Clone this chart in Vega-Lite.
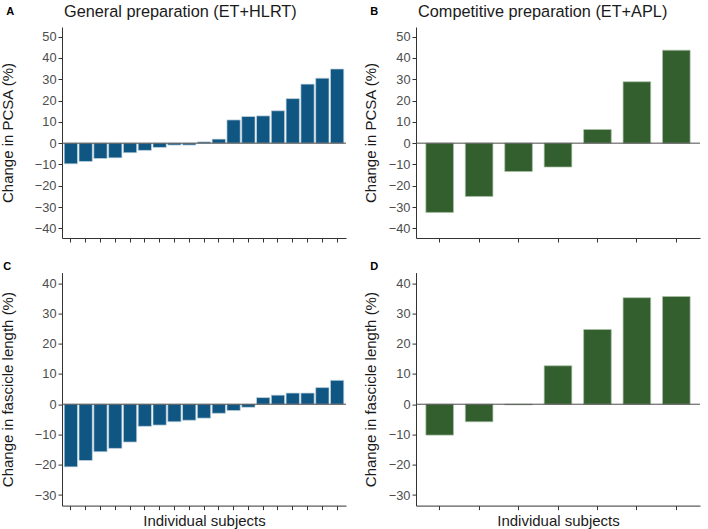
{
  "$schema": "https://vega.github.io/schema/vega-lite/v6.json",
  "padding": {"left": 0, "top": 3, "right": 2, "bottom": 2},
  "background": "white",
  "datasets": {
    "A": [
      {"subject": "s01", "change": -9.7}, {"subject": "s02", "change": -8.6}, {"subject": "s03", "change": -7.2},
      {"subject": "s04", "change": -6.9}, {"subject": "s05", "change": -4.5}, {"subject": "s06", "change": -3.4},
      {"subject": "s07", "change": -2.0}, {"subject": "s08", "change": -0.9}, {"subject": "s09", "change": -0.9},
      {"subject": "s10", "change": 0.6}, {"subject": "s11", "change": 1.9}, {"subject": "s12", "change": 10.9},
      {"subject": "s13", "change": 12.5}, {"subject": "s14", "change": 12.8}, {"subject": "s15", "change": 15.2},
      {"subject": "s16", "change": 20.9}, {"subject": "s17", "change": 27.7}, {"subject": "s18", "change": 30.5},
      {"subject": "s19", "change": 34.8}
    ],
    "B": [
      {"subject": "s1", "change": -32.5}, {"subject": "s2", "change": -25.0}, {"subject": "s3", "change": -13.3},
      {"subject": "s4", "change": -11.2}, {"subject": "s5", "change": 6.4}, {"subject": "s6", "change": 28.8},
      {"subject": "s7", "change": 43.6}
    ],
    "C": [
      {"subject": "s01", "change": -20.7}, {"subject": "s02", "change": -18.6}, {"subject": "s03", "change": -15.7},
      {"subject": "s04", "change": -14.6}, {"subject": "s05", "change": -12.5}, {"subject": "s06", "change": -7.3},
      {"subject": "s07", "change": -6.9}, {"subject": "s08", "change": -5.8}, {"subject": "s09", "change": -5.3},
      {"subject": "s10", "change": -4.6}, {"subject": "s11", "change": -3.0}, {"subject": "s12", "change": -2.1},
      {"subject": "s13", "change": -1.0}, {"subject": "s14", "change": 2.2}, {"subject": "s15", "change": 3.0},
      {"subject": "s16", "change": 3.7}, {"subject": "s17", "change": 3.7}, {"subject": "s18", "change": 5.5},
      {"subject": "s19", "change": 7.9}
    ],
    "D": [
      {"subject": "s1", "change": -10.2}, {"subject": "s2", "change": -5.8}, {"subject": "s3", "change": -0.2},
      {"subject": "s4", "change": 12.7}, {"subject": "s5", "change": 24.7}, {"subject": "s6", "change": 35.2},
      {"subject": "s7", "change": 35.6}
    ],
    "zero": [{"v": 0}]
  },
  "config": {
    "view": {"stroke": null},
    "font": "Liberation Sans",
    "axis": {
      "grid": false,
      "domainColor": "#333333", "domainWidth": 1,
      "tickColor": "#333333", "tickWidth": 1, "tickSize": 4,
      "labelColor": "#4d4d4d", "labelFontSize": 12.8, "labelFont": "Liberation Sans", "labelPadding": 2,
      "labelOverlap": false, "labelBound": false, "labelFlush": false,
      "titleFont": "Liberation Sans", "titleFontSize": 15, "titleFontWeight": "normal", "titleColor": "#1a1a1a"
    },
    "title": {"font": "Liberation Sans"}
  },
  "columns": 2,
  "spacing": {"row": 17.6, "column": 16},
  "concat": [
    {
      "title": {"text": "A", "anchor": "start", "frame": "bounds", "fontSize": 11, "fontWeight": "bold", "color": "#000000", "offset": -13, "dx": 6},
      "vconcat": [
        {
          "width": 284, "height": 211,
          "title": {"text": "General preparation (ET+HLRT)", "anchor": "start", "frame": "group", "fontSize": 16.3, "fontWeight": "normal", "color": "#1a1a1a", "offset": 7, "dx": 2},
          "layer": [
            {
              "data": {"name": "A"},
              "mark": {"type": "bar", "color": "#0f5683", "stroke": "#c5d5e0", "strokeWidth": 0.7},
              "encoding": {
                "x": {"field": "subject", "type": "ordinal", "sort": null, "scale": {"paddingInner": 0.1, "paddingOuter": 0.15}, "axis": {"labels": false, "title": null}},
                "y": {"field": "change", "type": "quantitative", "scale": {"domain": [-44.5, 54.5], "nice": false, "zero": false}, "axis": {"values": [-40, -30, -20, -10, 0, 10, 20, 30, 40, 50], "labelOverlap": false, "title": "Change in PCSA (%)", "titlePadding": 19}}
              }
            },
            {
              "data": {"name": "zero"},
              "mark": {"type": "rule", "color": "#4d4d4d", "strokeWidth": 1},
              "encoding": {"y": {"field": "v", "type": "quantitative", "axis": {"values": [-40, -30, -20, -10, 0, 10, 20, 30, 40, 50], "labelOverlap": false, "title": "Change in PCSA (%)", "titlePadding": 19}}}
            }
          ]
        }
      ]
    },
    {
      "title": {"text": "B", "anchor": "start", "frame": "bounds", "fontSize": 11, "fontWeight": "bold", "color": "#000000", "offset": -13, "dx": 7},
      "vconcat": [
        {
          "width": 284, "height": 211,
          "title": {"text": "Competitive preparation (ET+APL)", "anchor": "start", "frame": "group", "fontSize": 16.3, "fontWeight": "normal", "color": "#1a1a1a", "offset": 7, "dx": 2},
          "layer": [
            {
              "data": {"name": "B"},
              "mark": {"type": "bar", "color": "#335f2f", "stroke": "#a9c2a5", "strokeWidth": 0.7},
              "encoding": {
                "x": {"field": "subject", "type": "ordinal", "sort": null, "scale": {"paddingInner": 0.3, "paddingOuter": 0.25}, "axis": {"labels": false, "title": null}},
                "y": {"field": "change", "type": "quantitative", "scale": {"domain": [-44.5, 54.5], "nice": false, "zero": false}, "axis": {"values": [-40, -30, -20, -10, 0, 10, 20, 30, 40, 50], "labelOverlap": false, "title": "Change in PCSA (%)", "titlePadding": 10}}
              }
            },
            {
              "data": {"name": "zero"},
              "mark": {"type": "rule", "color": "#4d4d4d", "strokeWidth": 1},
              "encoding": {"y": {"field": "v", "type": "quantitative", "axis": {"values": [-40, -30, -20, -10, 0, 10, 20, 30, 40, 50], "labelOverlap": false, "title": "Change in PCSA (%)", "titlePadding": 10}}}
            }
          ]
        }
      ]
    },
    {
      "title": {"text": "C", "anchor": "start", "frame": "bounds", "fontSize": 11, "fontWeight": "bold", "color": "#000000", "offset": 1, "dx": 3},
      "vconcat": [
        {
          "width": 284, "height": 233,
          "layer": [
            {
              "data": {"name": "C"},
              "mark": {"type": "bar", "color": "#0f5683", "stroke": "#c5d5e0", "strokeWidth": 0.7},
              "encoding": {
                "x": {"field": "subject", "type": "ordinal", "sort": null, "scale": {"paddingInner": 0.1, "paddingOuter": 0.15}, "axis": {"labels": false, "title": "Individual subjects", "titlePadding": 3}},
                "y": {"field": "change", "type": "quantitative", "scale": {"domain": [-33.5, 43.5], "nice": false, "zero": false}, "axis": {"values": [-30, -20, -10, 0, 10, 20, 30, 40], "labelOverlap": false, "title": "Change in fascicle length (%)", "titlePadding": 19}}
              }
            },
            {
              "data": {"name": "zero"},
              "mark": {"type": "rule", "color": "#4d4d4d", "strokeWidth": 1},
              "encoding": {"y": {"field": "v", "type": "quantitative", "axis": {"values": [-30, -20, -10, 0, 10, 20, 30, 40], "labelOverlap": false, "title": "Change in fascicle length (%)", "titlePadding": 19}}}
            }
          ]
        }
      ]
    },
    {
      "title": {"text": "D", "anchor": "start", "frame": "bounds", "fontSize": 11, "fontWeight": "bold", "color": "#000000", "offset": 1, "dx": 7},
      "vconcat": [
        {
          "width": 284, "height": 233,
          "layer": [
            {
              "data": {"name": "D"},
              "mark": {"type": "bar", "color": "#335f2f", "stroke": "#a9c2a5", "strokeWidth": 0.7},
              "encoding": {
                "x": {"field": "subject", "type": "ordinal", "sort": null, "scale": {"paddingInner": 0.3, "paddingOuter": 0.25}, "axis": {"labels": false, "title": "Individual subjects", "titlePadding": 3}},
                "y": {"field": "change", "type": "quantitative", "scale": {"domain": [-33.5, 43.5], "nice": false, "zero": false}, "axis": {"values": [-30, -20, -10, 0, 10, 20, 30, 40], "labelOverlap": false, "title": "Change in fascicle length (%)", "titlePadding": 10}}
              }
            },
            {
              "data": {"name": "zero"},
              "mark": {"type": "rule", "color": "#4d4d4d", "strokeWidth": 1},
              "encoding": {"y": {"field": "v", "type": "quantitative", "axis": {"values": [-30, -20, -10, 0, 10, 20, 30, 40], "labelOverlap": false, "title": "Change in fascicle length (%)", "titlePadding": 10}}}
            }
          ]
        }
      ]
    }
  ]
}
